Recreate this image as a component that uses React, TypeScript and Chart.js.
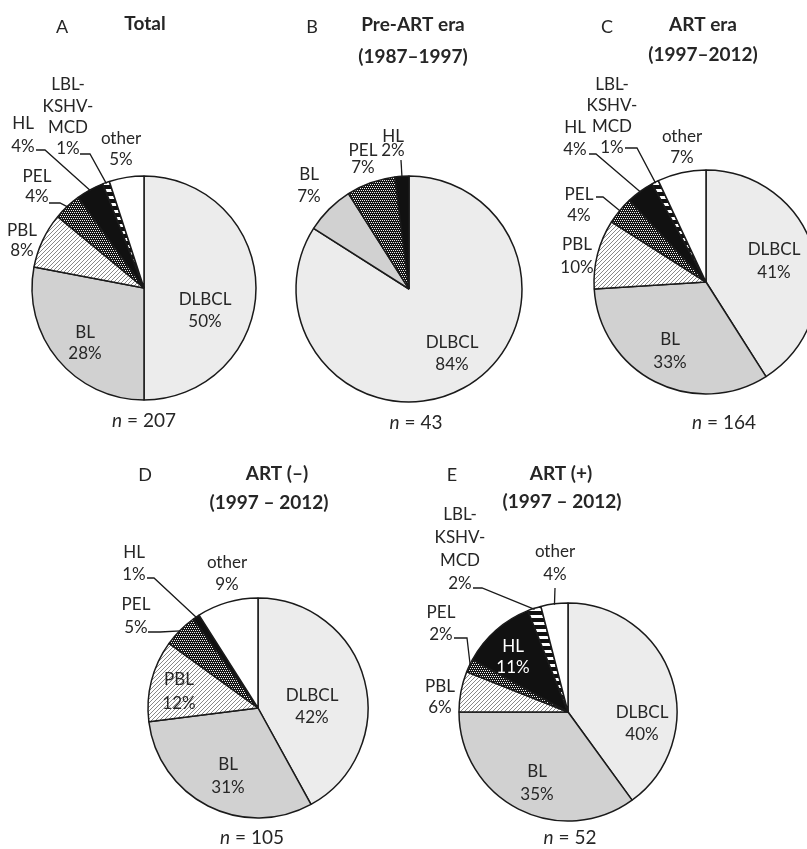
import React, { useEffect, useRef } from "react";
import { Chart, registerables } from "chart.js";

Chart.register(...registerables);

// ---------------- data ----------------
const categories = ["DLBCL", "BL", "PBL", "PEL", "HL", "LBL-KSHV-MCD", "other"];
const totalValues = [50, 28, 8, 4, 4, 1, 5];
const preArtValues = [84, 7, 0, 7, 2, 0, 0];
const artEraValues = [41, 33, 10, 4, 4, 1, 7];
const artNegValues = [42, 31, 12, 5, 1, 0, 9];
const artPosValues = [40, 35, 6, 2, 11, 2, 4];
const nValues = [207, 43, 164, 105, 52];
const panelLetters = ["A", "B", "C", "D", "E"];
const panelTitles = [
  ["Total"],
  ["Pre-ART era", "(1987\u20131997)"],
  ["ART era", "(1997\u20132012)"],
  ["ART (\u2013)", "(1997 \u2013 2012)"],
  ["ART (+)", "(1997 \u2013 2012)"],
];
const panelValues = [totalValues, preArtValues, artEraValues, artNegValues, artPosValues];

// ---------------- layout (page coordinates) ----------------
type Lbl = { i: number; x: number; y: number; gap: number; color?: string; leader?: number[][] };
type Layout = {
  rect: number[];
  center: number[];
  r: number;
  letter: number[];
  titleX: number[];
  titleY: number[];
  nPos: number[];
  labels: Lbl[];
};

const layouts: Layout[] = [
  {
    rect: [0, 0, 270, 440], center: [144, 288], r: 112,
    letter: [62, 27], titleX: [145], titleY: [24], nPos: [144, 421],
    labels: [
      { i: 0, x: 205, y: 300, gap: 22 },
      { i: 1, x: 85, y: 333, gap: 21 },
      { i: 2, x: 22, y: 231, gap: 20 },
      { i: 3, x: 37, y: 177, gap: 20, leader: [[49, 203], [60, 203]] },
      { i: 4, x: 23, y: 124, gap: 23, leader: [[36, 150], [45, 150]] },
      { i: 5, x: 68, y: 85, gap: 21.3, leader: [[80, 154], [90, 154]] },
      { i: 6, x: 121, y: 139, gap: 21 },
    ],
  },
  {
    rect: [270, 0, 260, 440], center: [409, 289], r: 113,
    letter: [312, 27], titleX: [413, 413], titleY: [25, 57], nPos: [416, 423],
    labels: [
      { i: 0, x: 452, y: 343, gap: 22 },
      { i: 1, x: 309, y: 175, gap: 22 },
      { i: 3, x: 363, y: 151, gap: 17 },
      { i: 4, x: 393, y: 137, gap: 14, leader: [[401, 160]] },
    ],
  },
  {
    rect: [530, 0, 300, 440], center: [706, 282], r: 112,
    letter: [607, 27], titleX: [703, 703], titleY: [25, 55], nPos: [724, 423],
    labels: [
      { i: 0, x: 774, y: 250, gap: 23 },
      { i: 1, x: 670, y: 340, gap: 23 },
      { i: 2, x: 577, y: 245, gap: 23 },
      { i: 3, x: 579, y: 195, gap: 21, leader: [[596, 197], [603, 197]] },
      { i: 4, x: 575, y: 128, gap: 22, leader: [[589, 154], [596, 154]] },
      { i: 5, x: 612, y: 85, gap: 20.7, leader: [[625, 148], [637, 148]] },
      { i: 6, x: 682, y: 137, gap: 21 },
    ],
  },
  {
    rect: [100, 440, 300, 409], center: [258, 708], r: 110,
    letter: [145, 475], titleX: [277, 269], titleY: [474, 503], nPos: [252, 838],
    labels: [
      { i: 0, x: 312, y: 696, gap: 22 },
      { i: 1, x: 228, y: 765, gap: 23 },
      { i: 2, x: 179, y: 680, gap: 24 },
      { i: 3, x: 136, y: 605, gap: 23, leader: [[148, 632], [160, 632]] },
      { i: 4, x: 134, y: 553, gap: 22, leader: [[147, 578], [154, 578]] },
      { i: 6, x: 227, y: 563, gap: 22 },
    ],
  },
  {
    rect: [400, 440, 300, 409], center: [568, 712], r: 109,
    letter: [452, 475], titleX: [561, 562], titleY: [474, 502], nPos: [570, 838],
    labels: [
      { i: 0, x: 642, y: 713, gap: 22 },
      { i: 1, x: 537, y: 772, gap: 23 },
      { i: 2, x: 440, y: 687, gap: 21 },
      { i: 3, x: 441, y: 613, gap: 22, leader: [[454, 638], [467, 638]] },
      { i: 4, x: 513, y: 647, gap: 21, color: "#ffffff" },
      { i: 5, x: 460, y: 515, gap: 22.7, leader: [[473, 588], [482, 588]] },
      { i: 6, x: 555, y: 552, gap: 23, leader: [[555, 588]] },
    ],
  },
];

const FONT = "Lato, 'Open Sans', sans-serif";
const TEXT = "#262626";

function makePattern(kind: string): CanvasPattern | string {
  const c = document.createElement("canvas");
  const g = c.getContext("2d");
  if (!g) return "#888";
  if (kind === "hatch") {
    c.width = 4; c.height = 4;
    g.fillStyle = "#ffffff"; g.fillRect(0, 0, 4, 4);
    g.strokeStyle = "#7a7a7a"; g.lineWidth = 0.9;
    g.beginPath();
    g.moveTo(0, 4); g.lineTo(4, 0);
    g.moveTo(-1, 1); g.lineTo(1, -1);
    g.moveTo(3, 5); g.lineTo(5, 3);
    g.stroke();
  } else if (kind === "dots") {
    c.width = 4; c.height = 4;
    g.fillStyle = "#141414"; g.fillRect(0, 0, 4, 4);
    g.fillStyle = "#f0f0f0";
    g.fillRect(0, 0, 1, 1); g.fillRect(2, 0, 1, 1);
    g.fillRect(1, 2, 1, 1); g.fillRect(3, 2, 1, 1);
  } else {
    c.width = 8; c.height = 7;
    g.fillStyle = "#111111"; g.fillRect(0, 0, 8, 7);
    g.fillStyle = "#ffffff"; g.fillRect(0, 0, 8, 3);
  }
  return g.createPattern(c, "repeat") || "#888";
}

function nameLines(name: string): string[] {
  return name.split(/(?<=-)/);
}

function makeTextPlugin(p: number, lay: Layout) {
  return {
    id: "panelText" + p,
    afterDatasetsDraw(chart: any) {
      const ctx = chart.ctx as CanvasRenderingContext2D;
      const meta = chart.getDatasetMeta(0);
      const values = panelValues[p];
      ctx.save();
      ctx.translate(-lay.rect[0], -lay.rect[1]);
      // leader lines
      ctx.strokeStyle = "#1a1a1a";
      ctx.lineWidth = 1.3;
      lay.labels.forEach((l) => {
        if (!l.leader) return;
        const arc = meta.data[l.i];
        const pr = arc.getProps(["x", "y", "startAngle", "endAngle", "outerRadius"], true);
        const mid = (pr.startAngle + pr.endAngle) / 2;
        const ex = pr.x + Math.cos(mid) * (pr.outerRadius - 1) + lay.rect[0];
        const ey = pr.y + Math.sin(mid) * (pr.outerRadius - 1) + lay.rect[1];
        ctx.beginPath();
        ctx.moveTo(l.leader[0][0], l.leader[0][1]);
        for (let k = 1; k < l.leader.length; k++) ctx.lineTo(l.leader[k][0], l.leader[k][1]);
        ctx.lineTo(ex, ey);
        ctx.stroke();
      });
      ctx.textAlign = "center";
      ctx.textBaseline = "middle";
      // slice labels
      ctx.font = `17px ${FONT}`;
      lay.labels.forEach((l) => {
        const lines = [...nameLines(categories[l.i]), `${values[l.i]}%`];
        ctx.fillStyle = l.color || TEXT;
        lines.forEach((t, k) => ctx.fillText(t, l.x, l.y + k * l.gap));
      });
      // letter
      ctx.fillStyle = TEXT;
      ctx.font = `18px ${FONT}`;
      ctx.fillText(panelLetters[p], lay.letter[0], lay.letter[1]);
      // title
      ctx.font = `bold 19px ${FONT}`;
      panelTitles[p].forEach((t, k) => ctx.fillText(t, lay.titleX[k], lay.titleY[k]));
      // n = ...
      ctx.font = `italic 19px ${FONT}`;
      const wN = ctx.measureText("n").width;
      ctx.font = `19px ${FONT}`;
      const rest = ` = ${nValues[p]}`;
      const wR = ctx.measureText(rest).width;
      const x0 = lay.nPos[0] - (wN + wR) / 2;
      ctx.textAlign = "left";
      ctx.font = `italic 19px ${FONT}`;
      ctx.fillText("n", x0, lay.nPos[1]);
      ctx.font = `19px ${FONT}`;
      ctx.fillText(rest, x0 + wN, lay.nPos[1]);
      ctx.restore();
    },
  };
}

function PiePanel({ p }: { p: number }) {
  const ref = useRef<HTMLCanvasElement | null>(null);
  const lay = layouts[p];
  useEffect(() => {
    if (!ref.current) return;
    const fills = [
      "#ececec",
      "#d1d1d1",
      makePattern("hatch"),
      makePattern("dots"),
      "#111111",
      makePattern("stripes"),
      "#ffffff",
    ];
    const [left, top, w, h] = lay.rect;
    const S = 2 * lay.r + 10;
    const padding = {
      left: lay.center[0] - left - S / 2,
      right: left + w - (lay.center[0] + S / 2),
      top: lay.center[1] - top - S / 2,
      bottom: top + h - (lay.center[1] + S / 2),
    };
    const chart = new Chart(ref.current, {
      type: "pie",
      data: {
        labels: categories,
        datasets: [
          {
            data: panelValues[p],
            backgroundColor: fills as any,
            borderColor: "#1a1a1a",
            borderWidth: 1.5,
            radius: lay.r,
          } as any,
        ],
      },
      options: {
        responsive: false,
        animation: false,
        devicePixelRatio: 1,
        events: [],
        layout: { padding },
        plugins: { legend: { display: false }, tooltip: { enabled: false }, title: { display: false } },
      },
      plugins: [makeTextPlugin(p, lay)],
    });
    return () => chart.destroy();
  }, [p]);
  return (
    <canvas
      ref={ref}
      width={lay.rect[2]}
      height={lay.rect[3]}
      style={{
        position: "absolute",
        left: lay.rect[0],
        top: lay.rect[1],
        width: lay.rect[2],
        height: lay.rect[3],
      }}
    />
  );
}

export default function App() {
  return (
    <div
      style={{
        position: "fixed",
        left: 0,
        top: 0,
        width: 807,
        height: 849,
        overflow: "hidden",
        background: "#ffffff",
      }}
    >
      {layouts.map((_, p) => (
        <PiePanel key={p} p={p} />
      ))}
    </div>
  );
}
